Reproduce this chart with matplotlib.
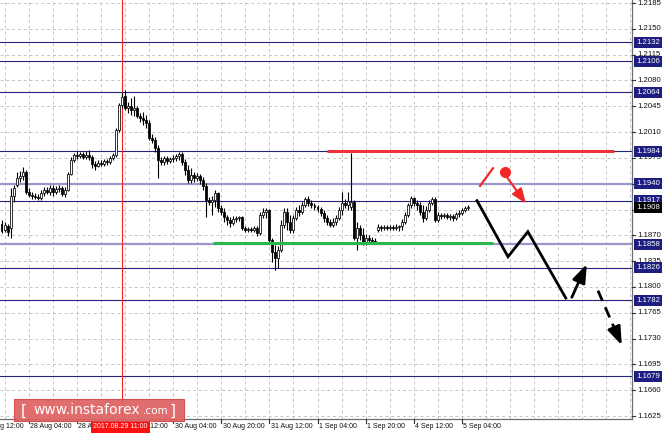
import matplotlib
matplotlib.use("Agg")
import matplotlib.pyplot as plt
import matplotlib.transforms as mtransforms
from matplotlib.patches import Rectangle, FancyBboxPatch
import numpy as np

# ---------------- data ----------------
date_labels = ["25 Aug 12:00", "28 Aug 04:00", "28 Aug 20:00", "29 Aug 12:00", "30 Aug 04:00",
               "30 Aug 20:00", "31 Aug 12:00", "1 Sep 04:00", "1 Sep 20:00", "4 Sep 12:00", "5 Sep 04:00"]
date_tick_bars = [-7, 9, 25, 41, 57, 73, 89, 105, 121, 137, 153]
cursor_bar = 40
cursor_label = "2017.08.29 11:00"

price_ticks = [1.2185, 1.2150, 1.2115, 1.2080, 1.2045, 1.2010, 1.1975, 1.1940, 1.1905,
               1.1870, 1.1835, 1.1800, 1.1765, 1.1730, 1.1695, 1.1660, 1.1625]
levels_dark = [1.2132, 1.2106, 1.2064, 1.1984, 1.1917, 1.1826, 1.1782, 1.1679]
levels_light = [1.1940, 1.1858]
bid_price = 1.1908

opens = [1.1885, 1.1877, 1.1883, 1.1880, 1.1923, 1.1938, 1.1948, 1.1950, 1.1956, 1.1929,
         1.1925, 1.1923, 1.1922, 1.1921, 1.1927, 1.1931, 1.1929, 1.1934, 1.1929, 1.1933,
         1.1934, 1.1926, 1.1931, 1.1953, 1.1972, 1.1979, 1.1978, 1.1980, 1.1976, 1.1979,
         1.1976, 1.1967, 1.1964, 1.1968, 1.1967, 1.1971, 1.1969, 1.1975, 1.1979, 1.2013,
         1.2047, 1.2059, 1.2043, 1.2045, 1.2040, 1.2043, 1.2032, 1.2029, 1.2026, 1.2022,
         1.2002, 1.1999, 1.1988, 1.1972, 1.1969, 1.1975, 1.1971, 1.1974, 1.1975, 1.1978,
         1.1980, 1.1969, 1.1959, 1.1945, 1.1952, 1.1948, 1.1950, 1.1945, 1.1937, 1.1918,
         1.1915, 1.1918, 1.1927, 1.1907, 1.1902, 1.1895, 1.1891, 1.1887, 1.1892, 1.1894,
         1.1895, 1.1880, 1.1877, 1.1879, 1.1877, 1.1880, 1.1873, 1.1898, 1.1902, 1.1904,
         1.1864, 1.1847, 1.1839, 1.1850, 1.1884, 1.1902, 1.1888, 1.1877, 1.1894, 1.1904,
         1.1902, 1.1911, 1.1919, 1.1914, 1.1911, 1.1908, 1.1906, 1.1900, 1.1894, 1.1888,
         1.1884, 1.1888, 1.1894, 1.1904, 1.1914, 1.1911, 1.1908, 1.1915, 1.1866, 1.1880,
         1.1870, 1.1860, 1.1866, 1.1864, 1.1862, 1.1877, 1.1881, 1.1880, 1.1881, 1.1880,
         1.1881, 1.1880, 1.1881, 1.1883, 1.1888, 1.1898, 1.1911, 1.1921, 1.1914, 1.1911,
         1.1902, 1.1894, 1.1904, 1.1914, 1.1919, 1.1891, 1.1898, 1.1896, 1.1898, 1.1895,
         1.1896, 1.1894, 1.1899, 1.1900, 1.1904, 1.1907]
highs = [1.1891, 1.1888, 1.1885, 1.1934, 1.1938, 1.1956, 1.1957, 1.1963, 1.1959, 1.1934,
         1.1929, 1.1927, 1.1926, 1.1931, 1.1936, 1.1936, 1.1938, 1.1938, 1.1937, 1.1938,
         1.1937, 1.1936, 1.1956, 1.1976, 1.1982, 1.1984, 1.1983, 1.1983, 1.1984, 1.1986,
         1.1979, 1.1971, 1.1972, 1.1972, 1.1974, 1.1974, 1.1978, 1.1982, 1.2016, 1.2049,
         1.2064, 1.2067, 1.2051, 1.2056, 1.2059, 1.2045, 1.2036, 1.2037, 1.2033, 1.2026,
         1.2007, 1.2003, 1.1992, 1.1976, 1.1978, 1.1978, 1.1976, 1.1979, 1.1980, 1.1983,
         1.1983, 1.1974, 1.1965, 1.1961, 1.1956, 1.1955, 1.1953, 1.1949, 1.1941, 1.1922,
         1.1923, 1.1931, 1.1929, 1.1911, 1.1907, 1.1898, 1.1895, 1.1896, 1.1896, 1.1896,
         1.1896, 1.1883, 1.1881, 1.1881, 1.1883, 1.1883, 1.1902, 1.1907, 1.1907, 1.1906,
         1.1866, 1.1857, 1.1856, 1.1891, 1.1907, 1.1907, 1.1898, 1.1898, 1.1908, 1.1911,
         1.1915, 1.1922, 1.1923, 1.1918, 1.1914, 1.1911, 1.1908, 1.1904, 1.1898, 1.1892,
         1.1894, 1.1898, 1.1908, 1.1929, 1.1919, 1.1929, 1.1982, 1.1918, 1.1888, 1.1884,
         1.1880, 1.1872, 1.1870, 1.1868, 1.1866, 1.1885, 1.1884, 1.1884, 1.1884, 1.1884,
         1.1884, 1.1885, 1.1884, 1.1892, 1.1902, 1.1914, 1.1923, 1.1922, 1.1918, 1.1915,
         1.1911, 1.1910, 1.1918, 1.1922, 1.1922, 1.1902, 1.1900, 1.1900, 1.1900, 1.1899,
         1.1899, 1.1902, 1.1904, 1.1907, 1.1910, 1.1911]
lows = [1.1873, 1.1875, 1.1869, 1.1866, 1.1915, 1.1936, 1.1942, 1.1945, 1.1926, 1.1922,
        1.1919, 1.1919, 1.1918, 1.1918, 1.1923, 1.1926, 1.1925, 1.1923, 1.1926, 1.1929,
        1.1923, 1.1922, 1.1930, 1.1952, 1.1969, 1.1974, 1.1975, 1.1974, 1.1974, 1.1972,
        1.1961, 1.1959, 1.1963, 1.1964, 1.1964, 1.1965, 1.1967, 1.1972, 1.1976, 1.2010,
        1.2043, 1.2040, 1.2036, 1.2033, 1.2032, 1.2029, 1.2024, 1.2020, 1.2016, 1.1999,
        1.1995, 1.1983, 1.1948, 1.1965, 1.1965, 1.1967, 1.1968, 1.1969, 1.1971, 1.1972,
        1.1965, 1.1952, 1.1941, 1.1941, 1.1942, 1.1944, 1.1940, 1.1931, 1.1895, 1.1911,
        1.1898, 1.1908, 1.1902, 1.1898, 1.1888, 1.1884, 1.1881, 1.1884, 1.1888, 1.1889,
        1.1877, 1.1875, 1.1875, 1.1875, 1.1875, 1.1869, 1.1870, 1.1894, 1.1894, 1.1860,
        1.1834, 1.1823, 1.1826, 1.1847, 1.1880, 1.1877, 1.1873, 1.1873, 1.1891, 1.1896,
        1.1899, 1.1908, 1.1910, 1.1907, 1.1904, 1.1902, 1.1896, 1.1888, 1.1884, 1.1881,
        1.1881, 1.1884, 1.1891, 1.1898, 1.1907, 1.1904, 1.1904, 1.1864, 1.1850, 1.1864,
        1.1857, 1.1857, 1.1861, 1.1860, 1.1858, 1.1875, 1.1876, 1.1877, 1.1877, 1.1877,
        1.1877, 1.1877, 1.1876, 1.1877, 1.1885, 1.1895, 1.1907, 1.1910, 1.1904, 1.1898,
        1.1888, 1.1891, 1.1902, 1.1911, 1.1888, 1.1888, 1.1892, 1.1894, 1.1892, 1.1891,
        1.1889, 1.1891, 1.1895, 1.1898, 1.1902, 1.1904]
closes = [1.1876, 1.1884, 1.1875, 1.1923, 1.1934, 1.1948, 1.1950, 1.1956, 1.1929, 1.1925,
          1.1923, 1.1922, 1.1921, 1.1927, 1.1931, 1.1929, 1.1934, 1.1929, 1.1933, 1.1934,
          1.1926, 1.1931, 1.1953, 1.1972, 1.1979, 1.1978, 1.1980, 1.1976, 1.1979, 1.1976,
          1.1967, 1.1964, 1.1968, 1.1967, 1.1971, 1.1969, 1.1975, 1.1979, 1.2013, 1.2047,
          1.2058, 1.2043, 1.2045, 1.2040, 1.2043, 1.2032, 1.2029, 1.2026, 1.2022, 1.2002,
          1.1999, 1.1988, 1.1972, 1.1969, 1.1975, 1.1971, 1.1974, 1.1975, 1.1978, 1.1980,
          1.1969, 1.1959, 1.1945, 1.1952, 1.1948, 1.1950, 1.1945, 1.1937, 1.1918, 1.1915,
          1.1918, 1.1927, 1.1907, 1.1902, 1.1895, 1.1891, 1.1887, 1.1892, 1.1894, 1.1895,
          1.1880, 1.1877, 1.1879, 1.1877, 1.1880, 1.1873, 1.1898, 1.1902, 1.1904, 1.1864,
          1.1847, 1.1839, 1.1850, 1.1884, 1.1902, 1.1888, 1.1877, 1.1894, 1.1904, 1.1902,
          1.1911, 1.1919, 1.1914, 1.1911, 1.1908, 1.1906, 1.1900, 1.1894, 1.1888, 1.1884,
          1.1888, 1.1894, 1.1904, 1.1914, 1.1911, 1.1917, 1.1915, 1.1866, 1.1880, 1.1870,
          1.1860, 1.1866, 1.1864, 1.1862, 1.1861, 1.1881, 1.1880, 1.1881, 1.1880, 1.1881,
          1.1880, 1.1881, 1.1883, 1.1888, 1.1898, 1.1911, 1.1921, 1.1914, 1.1911, 1.1902,
          1.1894, 1.1904, 1.1914, 1.1919, 1.1891, 1.1898, 1.1896, 1.1898, 1.1895, 1.1896,
          1.1894, 1.1899, 1.1900, 1.1904, 1.1907, 1.1908]

# analyst drawings (bar index, price)
resistance_x = [108.1, 203.5]
resistance_y = 1.1985
support_x = [70.3, 163.3]
support_y = 1.1859
red_stroke_x = [159.0, 163.3]
red_stroke_y = [1.1937, 1.1961]
red_dot_x, red_dot_y = 167.3, 1.1956
red_arrow_x = [167.9, 174.3]
red_arrow_y = [1.1949, 1.1913]
path_x = [158.0, 168.3, 174.9, 187.5]
path_y = [1.1917, 1.1841, 1.1875, 1.1785]
up_arrow_x = [189.5, 194.5]
up_arrow_y = [1.1786, 1.1831]
dash_arrow_x = [198.2, 206.1]
dash_arrow_y = [1.1795, 1.1721]

# ---------------- figure ----------------
W, H = 664, 437
fig = plt.figure(figsize=(W / 100, H / 100), dpi=100)
fig.patch.set_facecolor("white")
plot_w, plot_h = 632, 419
ax = fig.add_axes([0, 1 - plot_h / H, plot_w / W, plot_h / H])
ax.set_xlim(-0.5, 209.5)
ax.set_ylim(1.16210, 1.21891)
ax.set_facecolor("white")
for s in ["top", "left"]:
    ax.spines[s].set_visible(False)
for s in ["right", "bottom"]:
    ax.spines[s].set_color("#6e6e6e")
    ax.spines[s].set_linewidth(0.9)
ax.set_xticks([])
ax.set_yticks([])

grid_kw = dict(color="#c4c4c4", lw=0.7, ls=(0, (3, 3)), zorder=0)
for p in price_ticks:
    ax.axhline(p, **grid_kw)
for gx in range(1, 210, 8):
    ax.axvline(gx, **grid_kw)

# level lines
for lv in levels_dark:
    ax.axhline(lv, color="#24247e", lw=0.8, zorder=1)
for lv in levels_light:
    ax.axhline(lv, color="#9898cc", lw=1.6, zorder=1)

# cursor
ax.axvline(cursor_bar, color="#ff2020", lw=0.8, zorder=1)

# candles
bars = np.arange(len(opens))
ax.vlines(bars, lows, highs, color="black", lw=0.8, zorder=3)
for i in bars:
    o, c = opens[i], closes[i]
    lo, hi = min(o, c), max(o, c)
    h = max(hi - lo, 0.00004)
    if c >= o:
        rect = Rectangle((i - 0.33, lo), 0.66, h, facecolor="white", edgecolor="black", lw=0.55, zorder=4)
    else:
        rect = Rectangle((i - 0.33, lo), 0.66, h, facecolor="black", edgecolor="black", lw=0.55, zorder=4)
    ax.add_patch(rect)

# drawings
ax.plot(resistance_x, [resistance_y] * 2, color="#f0303a", lw=2.2, zorder=5, solid_capstyle="butt")
ax.plot(support_x, [support_y] * 2, color="#2fb84a", lw=2.2, zorder=5, solid_capstyle="butt")
ax.plot(red_stroke_x, red_stroke_y, color="#f02828", lw=1.6, zorder=6)
ax.plot([red_dot_x], [red_dot_y], "o", color="#f02828", ms=7, zorder=6)
ax.annotate("", xy=(red_arrow_x[1], red_arrow_y[1]), xytext=(red_arrow_x[0], red_arrow_y[0]),
            arrowprops=dict(arrowstyle="-|>,head_length=0.9,head_width=0.35", color="#f02828",
                            lw=1.5, mutation_scale=10, shrinkA=0, shrinkB=0), zorder=6)
ax.plot(path_x, path_y, color="black", lw=2.0, zorder=6, solid_joinstyle="miter")
ax.annotate("", xy=(up_arrow_x[1], up_arrow_y[1]), xytext=(up_arrow_x[0], up_arrow_y[0]),
            arrowprops=dict(arrowstyle="-|>,head_length=1.1,head_width=0.4", color="black",
                            lw=2.0, mutation_scale=10, shrinkA=0, shrinkB=0), zorder=6)
# dashed arrow: dashed shaft + solid head
fx = dash_arrow_x[0] + 0.7 * (dash_arrow_x[1] - dash_arrow_x[0])
fy = dash_arrow_y[0] + 0.7 * (dash_arrow_y[1] - dash_arrow_y[0])
ax.plot([dash_arrow_x[0], fx], [dash_arrow_y[0], fy], color="black", lw=2.0, ls=(0, (4, 2.5)), zorder=6)
ax.annotate("", xy=(dash_arrow_x[1], dash_arrow_y[1]), xytext=(fx, fy),
            arrowprops=dict(arrowstyle="-|>,head_length=1.1,head_width=0.4", color="black",
                            lw=2.0, mutation_scale=10, shrinkA=0, shrinkB=0), zorder=6)

# right price axis
ty = mtransforms.blended_transform_factory(ax.transAxes, ax.transData)
px = 1.0 / plot_w
fnt = "Liberation Sans"
for p in price_ticks:
    ax.plot([1.0, 1.0 + 3 * px], [p, p], color="#333333", lw=0.8, transform=ty, clip_on=False, zorder=7)
    ax.text(1.0 + 5 * px, p, f"{p:.4f}", transform=ty, fontsize=5.6, family=fnt,
            va="center", ha="left", color="#111111", clip_on=False, zorder=7)
for lv in levels_dark + levels_light:
    ax.text(1.0 + 4 * px, lv, f"{lv:.4f}", transform=ty, fontsize=5.6, family=fnt, color="white",
            va="center", ha="left", clip_on=False, zorder=9,
            bbox=dict(boxstyle="square,pad=0.25", facecolor="#1e1e80", edgecolor="none"))
ax.text(1.0 + 4 * px, bid_price, f"{bid_price:.4f}", transform=ty, fontsize=5.6, family=fnt, color="white",
        va="center", ha="left", clip_on=False, zorder=10,
        bbox=dict(boxstyle="square,pad=0.25", facecolor="black", edgecolor="none"))

# bottom date axis
tx = mtransforms.blended_transform_factory(ax.transData, ax.transAxes)
py = 1.0 / plot_h
for b, lab in zip(date_tick_bars, date_labels):
    ax.plot([b, b], [0, -4 * py], color="#333333", lw=0.8, transform=tx, clip_on=False, zorder=7)
    ax.text(b + 0.5, -8 * py, lab, transform=tx, fontsize=5.0, family=fnt, ha="left", va="center",
            color="#111111", clip_on=False, zorder=7)
ax.text(cursor_bar - 9.5, -8 * py, cursor_label, transform=tx, fontsize=5.0, family=fnt, ha="left",
        va="center", color="white", clip_on=False, zorder=10,
        bbox=dict(boxstyle="square,pad=0.3", facecolor="#ff1010", edgecolor="none"))

# logo
logo = FancyBboxPatch((14 / W, 1 - 421 / H), 170 / W, 22 / H, boxstyle="square,pad=0",
                      transform=fig.transFigure, facecolor="#de6262", edgecolor="#d04848",
                      lw=0.8, alpha=0.92, zorder=20)
fig.patches.append(logo)
fig.text(21 / W, 1 - 411 / H, "[", fontsize=11, color="white", va="center", ha="left",
         family="DejaVu Sans", zorder=21)
fig.text(33 / W, 1 - 410 / H, "www.instaforex", fontsize=10, color="white", va="center", ha="left",
         family="DejaVu Sans", zorder=21)
fig.text(143 / W, 1 - 411 / H, ".com", fontsize=7.5, color="white", va="center", ha="left",
         family="DejaVu Sans", zorder=21)
fig.text(170 / W, 1 - 411 / H, "]", fontsize=11, color="white", va="center", ha="left",
         family="DejaVu Sans", zorder=21)

fig.savefig("out.png", dpi=100, facecolor="white")
